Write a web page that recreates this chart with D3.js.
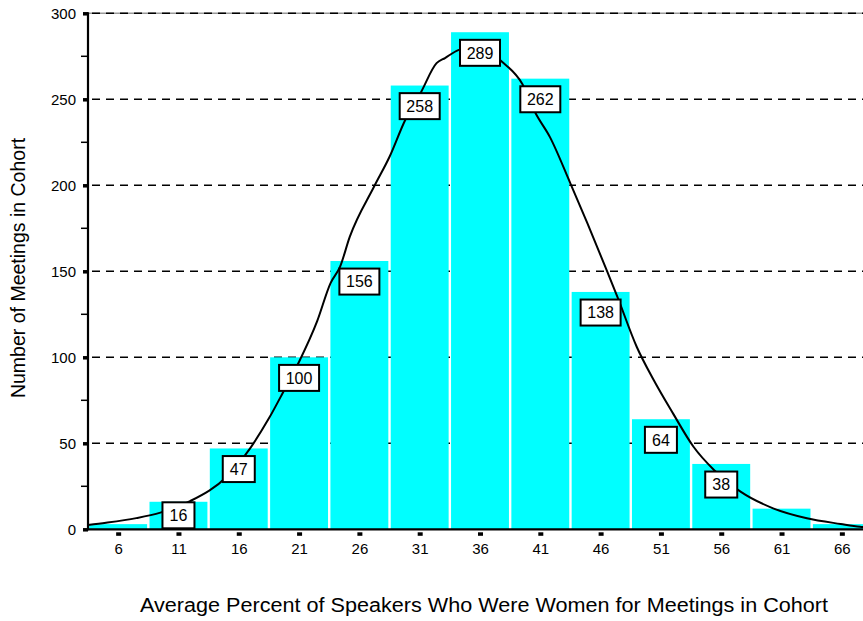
<!DOCTYPE html>
<html><head><meta charset="utf-8">
<script src="https://cdn.jsdelivr.net/npm/d3@7"></script>
<style>
html,body{margin:0;padding:0;background:#fff;}
svg{display:block;font-family:"Liberation Sans",Arial,sans-serif;}
</style></head>
<body>
<svg id="chart" width="863" height="621"></svg>
<script>
// ---- data ----
const binCenters = [6, 11, 16, 21, 26, 31, 36, 41, 46, 51, 56, 61, 66];
const binCounts  = [3, 16, 47, 100, 156, 258, 289, 262, 138, 64, 38, 12, 3];
const labeledBins = [11, 16, 21, 26, 31, 36, 41, 46, 51, 56];
const curveX = [3.5, 5, 7.5, 9.5, 12, 15, 16.5, 18.5, 19.7, 21, 22.5, 23.6, 24.4, 25.2, 27.2, 28.5, 29.8, 31.1, 32.4, 33.1, 34.2, 36, 37.8, 39.5, 40.6, 41.8, 43.5, 44.9, 46.5, 47.4, 49, 50.4, 52, 53.7, 55.4, 57.6, 60.3, 63.1, 65.9, 67.5, 68.5];
const curveY = [2.5, 3.8, 6.5, 9.7, 16.5, 30.6, 42.8, 64.5, 80, 97.4, 121, 143, 152.7, 170, 199, 216.6, 238, 254, 271, 274, 278.6, 281, 272, 259, 242, 228, 201, 178, 150.7, 135, 106, 86.8, 67.4, 48, 34.5, 21.9, 12.2, 6.4, 3.1, 1.5, 1];
const yTicks = [0, 50, 100, 150, 200, 250, 300];
const yMinorTicks = [25, 75, 125, 175, 225, 275];
const xTitle = "Average Percent of Speakers Who Were Women for Meetings in Cohort";
const yTitle = "Number of Meetings in Cohort";

// ---- scales ----
const svg = d3.select("#chart");
const x = d3.scaleLinear().domain([3.5, 68.5]).range([88, 872]);
const y = d3.scaleLinear().domain([0, 300]).range([529.3, 13.3]);

// gridlines (behind bars)
svg.append("line").attr("x1", x(3.5)).attr("x2", 863).attr("y1", y(300)).attr("y2", y(300))
  .attr("stroke", "#999").attr("stroke-width", 1.5);
svg.append("g").selectAll("line").data(yTicks.filter(d => d > 0)).join("line")
  .attr("x1", x(3.5) + 4).attr("x2", 863)
  .attr("y1", d => y(d)).attr("y2", d => y(d))
  .attr("stroke", "#000").attr("stroke-width", 1.6).attr("stroke-dasharray", "8,6");

// bars
svg.append("g").selectAll("rect").data(binCenters).join("rect")
  .attr("x", (d) => x(d - 2.5) + 1.2)
  .attr("width", d => x(d + 2.5) - x(d - 2.5) - 2.4)
  .attr("y", (d, i) => y(binCounts[i]))
  .attr("height", (d, i) => y(0) - y(binCounts[i]))
  .attr("fill", "#00FFFF");

// fitted curve
const pts = curveX.map((v, i) => [v, curveY[i]]);
svg.append("path").datum(pts)
  .attr("d", d3.line().x(d => x(d[0])).y(d => y(d[1])).curve(d3.curveMonotoneX))
  .attr("fill", "none").attr("stroke", "#000").attr("stroke-width", 2);

// axes
const yAxis = d3.axisLeft(y).tickValues(yTicks).tickSize(5).tickPadding(7);
const gy = svg.append("g").attr("transform", `translate(${x(3.5)},0)`).call(yAxis);
gy.select(".domain").remove();
gy.selectAll(".tick line").attr("stroke-width", 3.5);
gy.selectAll(".tick text").attr("font-size", 15).attr("font-family", "Liberation Sans, Arial, sans-serif").attr("fill", "#000");
svg.append("g").selectAll("line").data(yMinorTicks).join("line")
  .attr("x1", x(3.5) - 7).attr("x2", x(3.5)).attr("y1", d => y(d)).attr("y2", d => y(d))
  .attr("stroke", "#000").attr("stroke-width", 1.5);
svg.append("line").attr("x1", x(3.5)).attr("x2", x(3.5)).attr("y1", y(300) - 1).attr("y2", y(0) + 1)
  .attr("stroke", "#000").attr("stroke-width", 2.2);

const xAxis = d3.axisBottom(x).tickValues(binCenters).tickSize(0).tickPadding(14);
const gx = svg.append("g").attr("transform", `translate(0,${y(0)})`).call(xAxis);
gx.select(".domain").remove();
gx.selectAll(".tick text").attr("font-size", 15).attr("font-family", "Liberation Sans, Arial, sans-serif").attr("fill", "#000");
gx.selectAll(".tick").append("rect").attr("x", -2.5).attr("y", 3).attr("width", 5).attr("height", 3.5).attr("fill", "#000");
svg.append("line").attr("x1", x(3.5) - 1).attr("x2", 863).attr("y1", y(0)).attr("y2", y(0))
  .attr("stroke", "#000").attr("stroke-width", 2.2);

// value label boxes
const lab = svg.append("g");
labeledBins.forEach(b => {
  const i = binCenters.indexOf(b);
  const v = binCounts[i];
  const txt = String(v);
  const w = txt.length >= 3 ? 40 : 32, h = 26;
  const cx = x(b);
  const cy = Math.min(y(v) + 20.6, y(0) - h / 2 - 1);
  lab.append("rect").attr("x", cx - w / 2).attr("y", cy - h / 2).attr("width", w).attr("height", h)
    .attr("fill", "#fff").attr("stroke", "#000").attr("stroke-width", 2);
  lab.append("text").attr("x", cx).attr("y", cy).attr("dy", "0.36em").attr("text-anchor", "middle")
    .attr("font-size", 16).text(txt);
});

// titles
svg.append("text").attr("transform", `translate(25,268) rotate(-90)`).attr("text-anchor", "middle")
  .attr("font-size", 19.5).text(yTitle);
svg.append("text").attr("x", 484).attr("y", 612).attr("text-anchor", "middle")
  .attr("font-size", 19.5).attr("textLength", 688).attr("lengthAdjust", "spacingAndGlyphs").text(xTitle);
</script>
</body></html>
